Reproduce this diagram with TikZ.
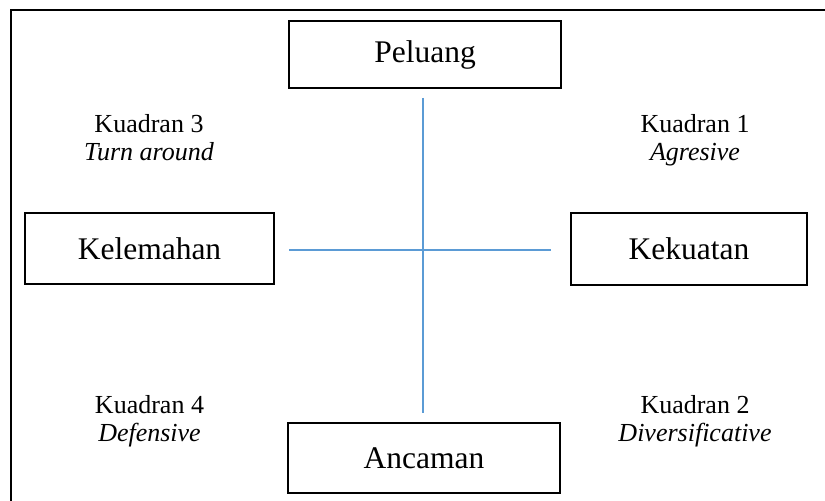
\documentclass[tikz,border=0pt]{standalone}
\usepackage{fontspec}
\setmainfont{Liberation Serif}
\definecolor{axisblue}{HTML}{5B9BD5}
\tikzset{
  fieldbox/.style={draw=black, line width=1.8bp, minimum width=#1, inner sep=0pt,
    font=\fontsize{31.5bp}{36bp}\selectfont},
  quadtext/.style={anchor=base, inner sep=0pt, font=\fontsize{26bp}{30bp}\selectfont},
  quadname/.style={quadtext, font=\fontsize{26bp}{30bp}\selectfont\itshape},
  axis/.style={draw=axisblue, line width=1.3bp}
}
\begin{document}
\begin{tikzpicture}[x=1bp, y=-1bp]
  \useasboundingbox (0,0) rectangle (825,501);
  \begin{scope}
    \clip (0,0) rectangle (825,501);
    % outer frame, running off the page to the right and bottom
    \draw[line width=2bp] (11,10) rectangle (860,540);

    % the four factor boxes
    \node[fieldbox=272bp, minimum height=67bp] (peluang)   at (425,54.5) {Peluang};
    \node[fieldbox=249bp, minimum height=71bp] (kelemahan) at (149.5,248.5) {Kelemahan};
    \node[fieldbox=236bp, minimum height=72bp] (kekuatan)  at (689,249) {Kekuatan};
    \node[fieldbox=272bp, minimum height=70bp] (ancaman)   at (424,458) {Ancaman};

    % axes
    \coordinate (vtop) at (423,98);
    \coordinate (vbot) at (423,413);
    \coordinate (hleft) at (289,250);
    \coordinate (hright) at (551,250);
    \draw[axis] (vtop) -- (vbot);
    \draw[axis] (hleft) -- (hright);

    % quadrant labels
    \node[quadtext] (k3) at (149,133) {Kuadran 3};
    \node[quadname] (k3n) at (149,161) {Turn around};
    \node[quadtext] (k1) at (695,133) {Kuadran 1};
    \node[quadname] (k1n) at (695,161) {Agresive};
    \node[quadtext] (k4) at (149.5,413) {Kuadran 4};
    \node[quadname] (k4n) at (149.5,441) {Defensive};
    \node[quadtext] (k2) at (695,413) {Kuadran 2};
    \node[quadname] (k2n) at (695,441) {Diversificative};
  \end{scope}
\end{tikzpicture}
\end{document}
